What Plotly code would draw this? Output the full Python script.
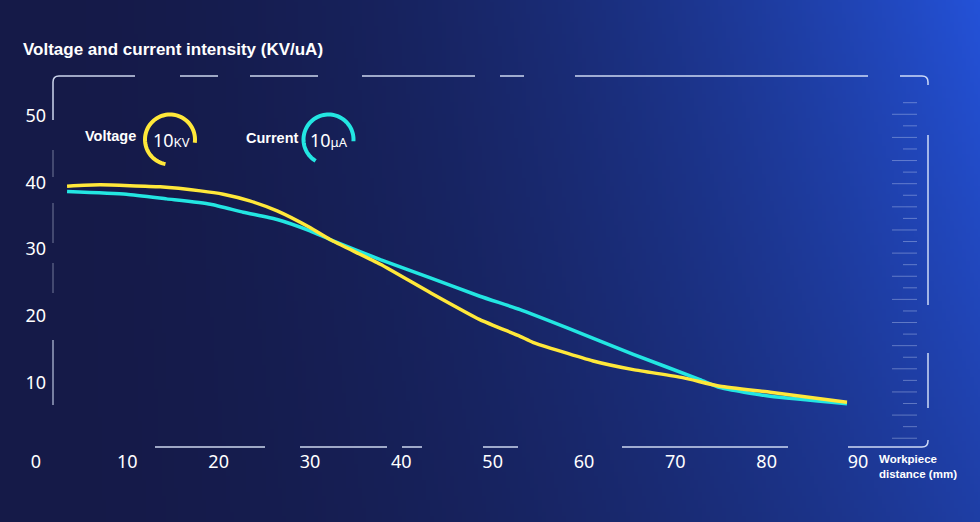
import base64
import math
import struct
import zlib

import plotly.graph_objects as go

# ---------------- data ----------------
distance_voltage = [3.4, 7.0, 13.6, 18.0, 20.5, 23.4, 26.4, 30.0, 32.2, 37.7, 43.1,
                    48.6, 53.0, 54.4, 61.0, 65.4, 70.8, 74.9, 80.4, 88.8]
voltage = [39.4, 39.6, 39.3, 38.7, 38.2, 37.2, 35.7, 33.2, 31.4, 27.7, 23.5,
           19.4, 16.9, 16.0, 13.2, 11.9, 10.7, 9.4, 8.5, 7.0]

distance_current = [3.4, 9.9, 14.3, 19.1, 22.7, 26.4, 30.0, 32.2, 37.7, 43.1, 48.6,
                    53.0, 58.1, 65.4, 72.7, 74.9, 80.4, 88.8]
current = [38.6, 38.2, 37.5, 36.7, 35.5, 34.4, 32.7, 31.4, 28.4, 25.7, 22.9,
           20.9, 18.2, 14.2, 10.4, 9.2, 7.9, 6.8]

x_ticks = [0, 10, 20, 30, 40, 50, 60, 70, 80, 90]
y_ticks = [10, 20, 30, 40, 50]

TITLE = "Voltage and current intensity (KV/uA)"
X_TITLE = "Workpiece<br>distance (mm)"
YELLOW = "#FFE83A"
CYAN = "#23E6E2"

# ---------------- geometry ----------------
W, H = 980, 522
ML, MR, MT, MB = 20, 40, 76, 73
PW, PH = W - ML - MR, H - MT - MB


def px(x):
    return (x - ML) / PW


def py(y):
    return (H - MB - y) / PH


# ---------------- background gradient image ----------------
def make_png(w, h):
    dark = (21, 26, 72)
    bright = (36, 82, 216)
    rows = []
    for j in range(h):
        row = bytearray([0])
        fy = j / (h - 1)
        for i in range(w):
            fx = i / (w - 1)
            t = (fx ** 2.0) * (1 - 0.35 * fy)
            row += bytes(int(dark[k] + (bright[k] - dark[k]) * t) for k in range(3))
        rows.append(bytes(row))
    raw = b"".join(rows)

    def chunk(tag, data):
        return (struct.pack(">I", len(data)) + tag + data +
                struct.pack(">I", zlib.crc32(tag + data) & 0xffffffff))

    return (b"\x89PNG\r\n\x1a\n" +
            chunk(b"IHDR", struct.pack(">IIBBBBB", w, h, 8, 2, 0, 0, 0)) +
            chunk(b"IDAT", zlib.compress(raw, 9)) + chunk(b"IEND", b""))


bg_uri = "data:image/png;base64," + base64.b64encode(make_png(245, 131)).decode()

fig = go.Figure()

fig.add_trace(go.Scatter(x=distance_current, y=current, mode="lines",
                         line=dict(color=CYAN, width=3.5, shape="spline", smoothing=0.5),
                         hoverinfo="skip", showlegend=False))
fig.add_trace(go.Scatter(x=distance_voltage, y=voltage, mode="lines",
                         line=dict(color=YELLOW, width=3.5, shape="spline", smoothing=0.5),
                         hoverinfo="skip", showlegend=False))

shapes = []
FRAME = "rgba(225,235,255,0.9)"


def seg(x0, y0, x1, y1, color=FRAME, width=1.5):
    shapes.append(dict(type="line", xref="paper", yref="paper",
                       x0=px(x0), y0=py(y0), x1=px(x1), y1=py(y1),
                       line=dict(color=color, width=width)))


def path(points, color=FRAME, width=1.5):
    d = ""
    for cmd, *pts in points:
        d += cmd + " " + " ".join(f"{px(a):.5f},{py(b):.5f}" for a, b in pts) + " "
    shapes.append(dict(type="path", xref="paper", yref="paper", path=d.strip(),
                       line=dict(color=color, width=width)))


FL, FR, FT, FB = 53, 928, 76, 447
# corners
path([("M", (FL, 120)), ("L", (FL, FT + 6)), ("Q", (FL, FT), (FL + 6, FT)), ("L", (135, FT))])
path([("M", (900, FT)), ("L", (FR - 6, FT)), ("Q", (FR, FT), (FR, FT + 6)), ("L", (FR, 85))])
path([("M", (FR, 440)), ("L", (FR, FB - 6)), ("Q", (FR, FB), (FR - 6, FB)), ("L", (848, FB))])
# top segments
for a, b in [(180, 218), (250, 318), (362, 475), (500, 524), (575, 868)]:
    seg(a, FT, b, FT)
# bottom segments
for a, b in [(155, 265), (300, 387), (402, 422), (483, 518), (622, 788)]:
    seg(a, FB, b, FB)
# right segments
for a, b in [(135, 305), (353, 408)]:
    seg(FR, a, FR, b)
# left segments
for a, b in [(150, 177), (203, 243), (263, 293)]:
    seg(FL, a, FL, b, color="rgba(225,235,255,0.3)")
seg(FL, 340, FL, 405, color="rgba(225,235,255,0.65)")

# ruler ticks on the right
RULER = "rgba(190,205,240,0.42)"
for k in range(30):
    yk = 102.7 + k * 11.57
    x0 = 903 if k % 2 == 0 else 892
    seg(x0, yk, 917, yk, color=RULER, width=1)


# legend arcs
def arc(cx, cy, r, a0, a1, color):
    pts = []
    n = 60
    for i in range(n + 1):
        a = math.radians(a0 + (a1 - a0) * i / n)
        pts.append((cx + r * math.cos(a), cy - r * math.sin(a)))
    d = "M " + " L ".join(f"{px(x):.5f},{py(y):.5f}" for x, y in pts)
    shapes.append(dict(type="path", xref="paper", yref="paper", path=d,
                       line=dict(color=color, width=4)))


arc(170, 139.5, 25, -7.5, 259.5, YELLOW)
arc(328.5, 139.5, 25, -4, 239, CYAN)

annotations = [
    dict(text=f"<b>{TITLE}</b>", x=px(21), y=py(50), xanchor="left", yanchor="middle",
         font=dict(size=17, color="white", family="Liberation Sans, Arial")),
    dict(text="<b>Voltage</b>", x=px(83), y=py(136), xanchor="left", yanchor="middle",
         font=dict(size=14.5, color="white", family="Liberation Sans, Arial")),
    dict(text="<b>Current</b>", x=px(244), y=py(137.5), xanchor="left", yanchor="middle",
         font=dict(size=14.5, color="white", family="Liberation Sans, Arial")),
    dict(text="10<span style='font-size:13px'>KV</span>", x=px(171.5), y=py(140),
         xanchor="center", yanchor="middle",
         font=dict(size=18, color="white", family="Noto Sans")),
    dict(text="10<span style='font-size:13px'>μA</span>", x=px(329), y=py(140),
         xanchor="center", yanchor="middle",
         font=dict(size=18, color="white", family="Noto Sans")),
    dict(text=f"<b>{X_TITLE}</b>", x=px(877), y=py(466), xanchor="left", yanchor="middle",
         align="left", font=dict(size=11.5, color="white", family="Liberation Sans, Arial")),
]
for a in annotations:
    a.update(xref="paper", yref="paper", showarrow=False)

fig.update_layout(
    width=W, height=H,
    margin=dict(l=ML, r=MR, t=MT, b=MB, pad=0),
    paper_bgcolor="#15194a",
    plot_bgcolor="rgba(0,0,0,0)",
    images=[dict(source=bg_uri, xref="paper", yref="paper",
                 x=px(0), y=py(0), sizex=W / PW, sizey=H / PH,
                 xanchor="left", yanchor="top", sizing="stretch", layer="below")],
    shapes=shapes,
    annotations=annotations,
    xaxis=dict(range=[(ML - 36) / 9.133, (W - MR - 36) / 9.133],
               tickvals=x_ticks, ticktext=[str(v) for v in x_ticks],
               showgrid=False, zeroline=False, showline=False, ticks="",
               tickfont=dict(size=18, color="white", family="Noto Sans"),
               fixedrange=True),
    yaxis=dict(range=[0, PH / 6.67], anchor="free", position=px(46),
               tickvals=y_ticks, ticktext=[str(v) for v in y_ticks],
               showgrid=False, zeroline=False, showline=False, ticks="",
               tickfont=dict(size=18, color="white", family="Noto Sans"),
               fixedrange=True),
    showlegend=False,
)

fig.write_html("out.html", config={"displayModeBar": False})
